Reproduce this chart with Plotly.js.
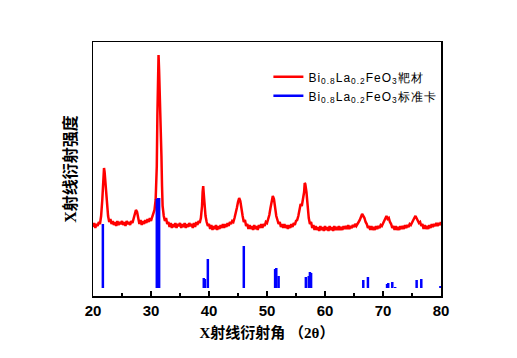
<!DOCTYPE html>
<html><head><meta charset="utf-8">
<script src="https://cdn.plot.ly/plotly-3.0.1.min.js"></script>
<style>body{margin:0;background:#fff}.legendtext{letter-spacing:1px}</style>
</head><body><div id="chart" style="width:517px;height:358px"></div>
<script>
const twoTheta = [20.0,20.2,20.4,20.6,20.8,21.0,21.2,21.4,21.6,21.8,21.9,22.0,22.2,22.4,22.6,22.8,23.0,23.2,23.4,23.6,23.8,24.0,24.2,24.4,24.6,24.8,25.0,25.2,25.4,25.6,25.8,26.0,26.2,26.4,26.6,26.8,27.0,27.2,27.4,27.6,27.8,28.0,28.2,28.4,28.6,28.8,29.0,29.2,29.4,29.6,29.8,30.0,30.2,30.4,30.6,30.8,31.0,31.1,31.2,31.3,31.4,31.5,31.6,31.7,31.8,31.9,32.0,32.2,32.4,32.6,32.8,33.0,33.2,33.4,33.6,33.8,34.0,34.2,34.4,34.6,34.8,35.0,35.2,35.4,35.6,35.8,36.0,36.2,36.4,36.6,36.8,37.0,37.2,37.4,37.6,37.8,38.0,38.2,38.4,38.6,38.8,38.9,39.0,39.1,39.2,39.4,39.6,39.8,40.0,40.2,40.4,40.6,40.8,41.0,41.2,41.4,41.6,41.8,42.0,42.2,42.4,42.6,42.8,43.0,43.2,43.4,43.6,43.8,44.0,44.2,44.4,44.6,44.8,45.0,45.2,45.4,45.6,45.8,46.0,46.2,46.4,46.6,46.8,47.0,47.2,47.4,47.6,47.8,48.0,48.2,48.4,48.6,48.8,49.0,49.2,49.4,49.6,49.8,50.0,50.2,50.4,50.6,50.8,51.0,51.2,51.4,51.6,51.8,52.0,52.2,52.4,52.6,52.8,53.0,53.2,53.4,53.6,53.8,54.0,54.2,54.4,54.6,54.8,55.0,55.2,55.4,55.6,55.8,56.0,56.2,56.4,56.5,56.6,56.8,57.0,57.2,57.4,57.6,57.8,58.0,58.2,58.4,58.6,58.8,59.0,59.2,59.4,59.6,59.8,60.0,60.2,60.4,60.6,60.8,61.0,61.2,61.4,61.6,61.8,62.0,62.2,62.4,62.6,62.8,63.0,63.2,63.4,63.6,63.8,64.0,64.2,64.4,64.6,64.8,65.0,65.2,65.4,65.6,65.8,66.0,66.2,66.4,66.6,66.8,67.0,67.2,67.4,67.6,67.8,68.0,68.2,68.4,68.6,68.8,69.0,69.2,69.4,69.6,69.8,70.0,70.2,70.4,70.6,70.8,71.0,71.2,71.4,71.6,71.8,72.0,72.2,72.4,72.6,72.8,73.0,73.2,73.4,73.6,73.8,74.0,74.2,74.4,74.6,74.8,75.0,75.2,75.4,75.6,75.8,76.0,76.2,76.4,76.6,76.8,77.0,77.2,77.4,77.6,77.8,78.0,78.2,78.4,78.6,78.8,79.0,79.2,79.4,79.6,79.8,80.0];
const targetIntensity = [69,73,68,72,70,74,72,80,96,122,128,124,108,90,80,74,77,72,75,71,74,70,75,71,74,72,75,71,74,70,75,72,74,71,75,73,77,80,86,84,79,72,76,71,75,72,76,73,77,74,78,75,79,82,86,96,130,180,215,241,225,205,200,172,140,110,90,80,75,78,72,74,69,73,68,72,69,73,68,72,70,73,68,72,69,73,68,72,69,73,70,72,68,73,69,74,71,75,73,78,90,104,110,102,92,80,74,70,72,67,71,66,70,67,71,66,70,67,71,68,72,68,72,69,73,70,74,72,75,74,78,82,88,94,98,95,86,80,74,76,70,72,67,71,67,70,66,71,67,70,66,71,68,72,68,72,70,74,73,77,81,88,96,100,97,88,80,76,72,74,69,72,68,72,68,71,67,71,68,72,69,73,71,75,76,80,86,92,90,96,104,113,112,104,88,78,72,74,68,71,66,70,66,69,65,70,66,69,65,70,66,69,65,70,66,69,65,70,66,69,66,70,66,69,66,70,67,70,67,71,67,70,68,71,69,72,70,73,74,76,79,82,80,78,74,72,68,70,66,70,66,69,66,70,67,70,68,71,70,73,75,78,80,77,78,74,72,68,70,66,70,66,69,66,70,67,70,67,71,68,71,69,72,71,74,76,78,80,77,76,73,74,70,72,67,71,67,70,67,71,68,72,69,72,70,73,70,73,71,74];
const stickTheta = [21.7,31.0,31.2,31.4,39.1,39.3,39.8,46.0,51.4,51.6,52.0,56.7,57.2,57.4,57.6,66.6,67.4,70.7,70.9,71.6,72.1,75.8,76.6,79.9];
const stickHeight = [72,97,98,98,18,17,37,50,27,28,20,19,20,24,23,16,19,12,13,14,9,16,17,10];
const stickBase = 8;
const xTickVals = [20,30,40,50,60,70,80];
const name1 = 'Bi<sub>0.8</sub>La<sub>0.2</sub>FeO<sub>3</sub>靶材';
const name2 = 'Bi<sub>0.8</sub>La<sub>0.2</sub>FeO<sub>3</sub>标准卡';

const sx = [], sy = [];
stickTheta.forEach((t, i) => { sx.push(t, t, null); sy.push(stickBase, stickHeight[i], null); });

const data = [
  {x: twoTheta, y: targetIntensity, type: 'scatter', mode: 'lines', name: name1,
   line: {color: '#ff0000', width: 2.5}},
  {x: sx, y: sy, type: 'scatter', mode: 'lines', name: name2,
   line: {color: '#0000ff', width: 2.5}}
];
const layout = {
  width: 517, height: 358,
  margin: {l: 93, r: 76, t: 42, b: 62},
  paper_bgcolor: '#fff', plot_bgcolor: '#fff',
  showlegend: true,
  legend: {x: 0.504, y: 0.92, xanchor: 'left', yanchor: 'top', bgcolor: 'rgba(0,0,0,0)',
    font: {family: 'Liberation Sans, Arial, sans-serif', size: 12, color: '#000'},
    itemwidth: 30, tracegroupgap: 0},
  xaxis: {range: [20, 80], tickvals: xTickVals, ticks: 'inside', ticklen: 5, tickwidth: 1.2,
    tickcolor: '#000', showline: true, linecolor: '#000', linewidth: 1.5, mirror: true,
    showgrid: false, zeroline: false,
    minor: {dtick: 5, tick0: 20, ticks: 'inside', ticklen: 3, tickwidth: 1.2, tickcolor: '#000', showgrid: false},
    tickfont: {family: 'Liberation Sans, Arial, sans-serif', size: 15, color: '#000', weight: 'bold'},
    title: {text: 'X射线衍射角 （2θ）', standoff: 10,
      font: {family: 'Liberation Serif, Noto Sans CJK SC, serif', size: 15, color: '#000', weight: 'bold'}}},
  yaxis: {range: [0, 254], showticklabels: false, ticks: '', showline: true, linecolor: '#000',
    linewidth: 1.5, mirror: true, showgrid: false, zeroline: false,
    title: {text: 'X射线衍射强度', standoff: 11,
      font: {family: 'Liberation Serif, Noto Sans CJK SC, serif', size: 16, color: '#000', weight: 'bold'}}}
};
Plotly.newPlot('chart', data, layout, {displayModeBar: false, staticPlot: true});
</script></body></html>
